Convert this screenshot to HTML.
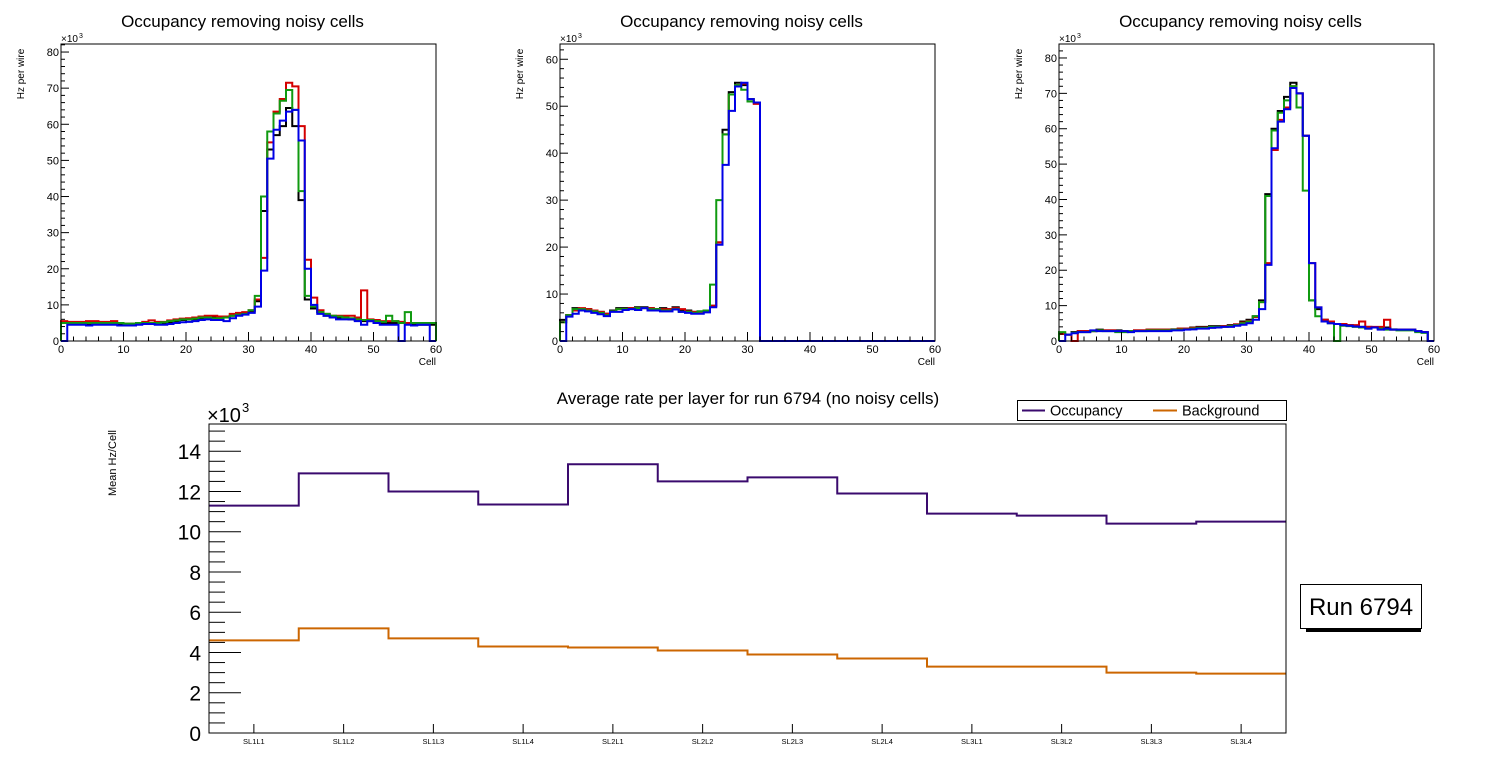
<!DOCTYPE html>
<html><head><meta charset="utf-8"><style>
html,body{margin:0;padding:0;background:#fff;}
svg{display:block;font-family:"Liberation Sans",Arial,sans-serif;}
</style></head><body>
<svg id="c" width="1496" height="772" viewBox="0 0 1496 772" xmlns="http://www.w3.org/2000/svg"></svg>
<script>
// ---------- data (x10^3 Hz per wire) ----------
const cellTicks = [0,10,20,30,40,50,60];
const p1Ticks = [0,10,20,30,40,50,60,70,80];
const p2Ticks = [0,10,20,30,40,50,60];
const p3Ticks = [0,10,20,30,40,50,60,70,80];
const p1Black = [5,5,5,5,4.8,5,5,5,5,4.8,4.5,4.5,4.8,5,5,5,5,5.2,5.5,5.8,6,6,6.3,6.5,6.5,6.3,6.5,7,7.3,7.8,8.2,11,36,53,57,59.5,64.5,59.5,39,11.5,9,8,7,6.5,6.5,6.5,6,5.8,5.5,5.5,5.3,5,5,5,5,5,4.8,4.5,4.5,4.5];
const p1Red = [5.5,5.3,5.3,5.3,5.5,5.5,5.3,5.3,5.5,5,4.8,4.8,5,5.3,5.7,5.3,5.3,5.7,6,6.2,6.3,6.5,6.8,7,7,6.8,6.8,7.5,7.8,8,8.5,11.5,23,55,63.5,67,71.5,70.5,59.5,22.5,12,8.5,7.5,7,7,7,7,6.5,14,6,5.8,5.5,5.5,5.5,5.3,5,5,5,5,5];
const p1Green = [5,5,5,5,5,5,5,5,5,5,4.8,4.8,5,5,5,5,5.2,5.5,5.7,6,6,6.2,6.5,6.5,6.3,6.3,6.5,7,7.3,7.5,8.5,12.5,40,58,63,66.5,69.5,64,41.5,12.5,9.5,8,7.5,7,6.8,6.5,6.3,6,5.8,5.8,5.5,5.3,7,5.5,5,8,5,5,5,5];
const p1Blue = [0,4.5,4.5,4.5,4.3,4.5,4.5,4.5,4.5,4.3,4.3,4.3,4.5,4.7,4.7,4.5,4.5,4.7,5,5.2,5.3,5.5,5.8,6,5.8,5.8,5.5,6.3,7,7.3,7.8,9.5,19.5,50.5,58.5,61,63.5,64,55.5,20,10,7.5,7,6.5,6,6,6,5.5,4.5,5.5,5,4.5,4.5,4.5,0,4.5,4.3,4.5,4.5,0];
const p2Black = [4.5,5.5,7,6.8,6.8,6.5,6.2,5.8,6.5,7,7,7,7.2,7.2,7,6.8,7,6.8,7.2,6.5,6.5,6.2,6.3,6.5,7.5,21,45,53,55,54.5,51.5,50.8,0,0,0,0,0,0,0,0,0,0,0,0,0,0,0,0,0,0,0,0,0,0,0,0,0,0,0,0];
const p2Red = [4,5.5,6.5,7,6.8,6.5,6.2,5.8,6.3,6.8,6.8,7,7,7,7,6.8,6.8,6.8,7,6.8,6.3,6.2,6.2,6.5,7.5,21,44,52.5,54.5,54.8,51,50.5,0,0,0,0,0,0,0,0,0,0,0,0,0,0,0,0,0,0,0,0,0,0,0,0,0,0,0,0];
const p2Green = [4,5.5,6.8,6.8,6.5,6.3,6,5.5,6.3,6.8,6.8,6.8,7,7,6.8,6.8,6.5,6.5,6.8,6.2,6.2,6,6.3,6.5,12,30,44,52.5,54.5,53.5,51,50.8,0,0,0,0,0,0,0,0,0,0,0,0,0,0,0,0,0,0,0,0,0,0,0,0,0,0,0,0];
const p2Blue = [0,5.2,5.8,6.5,6.3,6,5.7,5.3,6.2,6.2,6.6,6.8,6.6,7,6.5,6.5,6.3,6.3,6.7,6.2,6,5.8,5.8,6.1,7.2,20.5,37.5,49,54.2,55,51.5,50.8,0,0,0,0,0,0,0,0,0,0,0,0,0,0,0,0,0,0,0,0,0,0,0,0,0,0,0,0];
const p3Black = [2,1.8,2.5,2.8,2.8,2.8,3.2,3,3,3,2.8,2.8,3,3,3.2,3.2,3.2,3.2,3.3,3.5,3.5,3.8,4,4,4.2,4.2,4.2,4.5,4.7,5.5,6,7,11.5,41.5,60,65,69,73,70,58,11.5,9,6,5.5,4.8,4.8,4.5,4.3,4,4,3.8,3.5,3.8,3.3,3.2,3.2,3.2,2.8,2.5,0];
const p3Red = [2,1.8,0,2.8,2.8,2.8,3,3,3,2.8,2.8,2.8,3,3,3.2,3.2,3.2,3.2,3.3,3.5,3.5,3.7,3.8,3.8,4,4,4.2,4.3,4.7,5.2,5.7,6.8,11,22,54,62.5,66,72,70,58,22,9.5,6,5.5,4.8,4.8,4.5,4.5,5.5,4,4,4,6,3.2,3.2,3.2,3.2,2.8,2.5,0];
const p3Green = [2.5,1.8,2.3,2.5,2.5,2.8,3,2.8,2.8,2.5,2.5,2.8,2.8,2.8,3,3,3,3,3.2,3.2,3.3,3.5,3.7,3.7,4,4,4,4.2,4.5,5,5.5,7,11,41,59.5,64.5,68,72,66,42.5,11.5,7,5.5,5,0,4.3,4.2,4,3.8,3.5,3.8,3.5,3.2,3.2,3,3,3,2.5,2.3,0];
const p3Blue = [0,1.8,2.2,2.5,2.5,3,2.8,2.8,2.8,2.8,2.8,2.5,2.8,2.8,2.8,2.8,2.8,2.8,3,3,3.2,3.3,3.5,3.5,3.7,3.8,4,4,4.3,4.6,5,6,9,21.5,54.5,62,65.5,71.5,70,58,22,9.5,5.5,5,4.8,4.5,4.3,4.1,4,3.5,3.8,3.2,3.5,3.2,3.2,3.2,3.2,2.8,2.5,0];
// bottom chart
const layers = ["SL1L1","SL1L2","SL1L3","SL1L4","SL2L1","SL2L2","SL2L3","SL2L4","SL3L1","SL3L2","SL3L3","SL3L4"];
const occupancy = [11.3,12.9,12.0,11.35,13.35,12.5,12.7,11.9,10.9,10.8,10.4,10.5];
const background = [4.6,5.2,4.7,4.3,4.25,4.1,3.9,3.7,3.3,3.3,3.0,2.95];
const rateTicks = [0,2,4,6,8,10,12,14];

const NS="http://www.w3.org/2000/svg";
const svg=document.getElementById('c');
function mk(tag,attrs,parent){const e=document.createElementNS(NS,tag);for(const k in attrs)e.setAttribute(k,attrs[k]);(parent||svg).appendChild(e);return e;}
function txt(s,attrs,parent){const e=mk('text',attrs,parent);e.textContent=s;return e;}
function maxOf(arrs){let m=0;arrs.forEach(a=>a.forEach(v=>{if(v>m)m=v;}));return m;}

function stepPath(vals,xs,ys,edges){
  let d='';
  for(let i=0;i<vals.length;i++){
    const x0=xs(i),x1=xs(i+1),y=ys(vals[i]);
    if(i===0) d+= edges ? 'M'+x0+','+ys(0)+'L'+x0+','+y : 'M'+x0+','+y;
    else d+='L'+x0+','+y;
    d+='L'+x1+','+y;
  }
  if(edges) d+='L'+xs(vals.length)+','+ys(0);
  return d;
}

function histPanel(name,L,R,T,B,series,yticks){
  const g=mk('g',{});
  
  
  const ymax=maxOf(series.map(s=>s.v))*1.15;
  const xs=i=>L+(R-L)*i/60;
  const ys=v=>B-(B-T)*v/ymax;
  const t=txt('Occupancy removing noisy cells',{x:(L+R)/2-6,y:27,'font-size':17,'text-anchor':'middle'},g);
  
  
  series.forEach(s=>{
    const p=mk('path',{d:stepPath(s.v,xs,ys,true),fill:'none',stroke:s.c,'stroke-width':2},g);
    
    
  });
  const f=mk('rect',{x:L,y:T,width:R-L,height:B-T,fill:'none',stroke:'#000','stroke-width':1},g);
  
  
  for(let v=0;v<=60;v+=2){
    const big=v%10===0;const x=xs(v);
    mk('line',{x1:x,y1:B,x2:x,y2:B-(big?9:4.5),stroke:'#000','stroke-width':1},g);
  }
  cellTicks.forEach(v=>{
    const l=txt(String(v),{x:xs(v),y:B+12,'font-size':11,'text-anchor':'middle'},g);
    
    
  });
  const xt=txt('Cell',{x:R,y:B+24,'font-size':10,'text-anchor':'end'},g);
  
  
  for(let v=0;v<=ymax;v+=2){
    const big=v%10===0;const y=ys(v);
    mk('line',{x1:L,y1:y,x2:L+(big?8:4),y2:y,stroke:'#000','stroke-width':1},g);
  }
  yticks.forEach(v=>{
    if(v>ymax)return;
    const l=txt(String(v),{x:L-2,y:ys(v)+4,'font-size':11,'text-anchor':'end'},g);
    
    
  });
  const ex=txt('×10',{x:L,y:T-2,'font-size':10},g);
  
  
  txt('3',{x:L+18,y:T-6,'font-size':7},g);
  const yt=txt('Hz per wire',{x:0,y:0,'font-size':10,'text-anchor':'middle',transform:'translate('+(L-37)+',74) rotate(-90)'},g);
  
  
}

const cols={black:'#000000',red:'#d40000',green:'#109a10',blue:'#0000e6'};
histPanel('panel-1',61,436,44,341,[{n:'black',c:cols.black,v:p1Black},{n:'red',c:cols.red,v:p1Red},{n:'green',c:cols.green,v:p1Green},{n:'blue',c:cols.blue,v:p1Blue}],p1Ticks);
histPanel('panel-2',560,935,44,341,[{n:'black',c:cols.black,v:p2Black},{n:'red',c:cols.red,v:p2Red},{n:'green',c:cols.green,v:p2Green},{n:'blue',c:cols.blue,v:p2Blue}],p2Ticks);
histPanel('panel-3',1059,1434,44,341,[{n:'black',c:cols.black,v:p3Black},{n:'red',c:cols.red,v:p3Red},{n:'green',c:cols.green,v:p3Green},{n:'blue',c:cols.blue,v:p3Blue}],p3Ticks);

// ---------- bottom chart ----------
(function(){
  const L=209,R=1286,T=424,B=733;
  const g=mk('g',{});
  
  
  const ymax=maxOf([occupancy,background])*1.15;
  const n=layers.length;
  const xs=i=>L+(R-L)*i/n;
  const ys=v=>B-(B-T)*v/ymax;
  const t=txt('Average rate per layer for run 6794 (no noisy cells)',{x:748,y:404,'font-size':17,'text-anchor':'middle'},g);
  
  
  const po=mk('path',{d:stepPath(occupancy,xs,ys,false),fill:'none',stroke:'#3a0a6e','stroke-width':2},g);
  
  
  const pb=mk('path',{d:stepPath(background,xs,ys,false),fill:'none',stroke:'#cc6600','stroke-width':2},g);
  
  
  const f=mk('rect',{x:L,y:T,width:R-L,height:B-T,fill:'none',stroke:'#000','stroke-width':1},g);
  
  
  layers.forEach((s,i)=>{
    const x=(xs(i)+xs(i+1))/2;
    mk('line',{x1:x,y1:B,x2:x,y2:B-9,stroke:'#000','stroke-width':1},g);
    const l=txt(s,{x:x,y:744,'font-size':7.5,'text-anchor':'middle'},g);
    
    
  });
  for(let v=0;v<=ymax;v+=0.5){
    const big=Math.abs(v%2)<1e-9;const y=ys(v);
    mk('line',{x1:L,y1:y,x2:L+(big?32:16),y2:y,stroke:'#000','stroke-width':1},g);
  }
  rateTicks.forEach(v=>{
    const l=txt(String(v),{x:L-8,y:ys(v)+8,'font-size':21,'text-anchor':'end'},g);
    
    
  });
  const ex=txt('×10',{x:L-2,y:T-2,'font-size':20},g);
  
  
  txt('3',{x:L+33,y:T-12,'font-size':13},g);
  const yt=txt('Mean Hz/Cell',{x:0,y:0,'font-size':11,'text-anchor':'middle',transform:'translate(116,463) rotate(-90)'},g);
  
  
  const lg=mk('g',{},g);
  
  
  mk('rect',{x:1017.5,y:400.5,width:269,height:20,fill:'#fff',stroke:'#000','stroke-width':1},lg);
  mk('line',{x1:1022,y1:410.5,x2:1045,y2:410.5,stroke:'#3a0a6e','stroke-width':2},lg);
  const l1=txt('Occupancy',{x:1050,y:415.5,'font-size':14.5},lg);
  
  
  mk('line',{x1:1153,y1:410.5,x2:1177,y2:410.5,stroke:'#cc6600','stroke-width':2},lg);
  const l2=txt('Background',{x:1182,y:415.5,'font-size':14.5},lg);
  
  
  const rb=mk('g',{},g);
  
  
  mk('rect',{x:1306,y:598,width:115,height:34,fill:'#000'},rb);
  mk('rect',{x:1300.5,y:584.5,width:121,height:44,fill:'#fff',stroke:'#000','stroke-width':1},rb);
  txt('Run 6794',{x:1361,y:615,'font-size':24,'text-anchor':'middle'},rb);
})();
</script>
</body></html>
